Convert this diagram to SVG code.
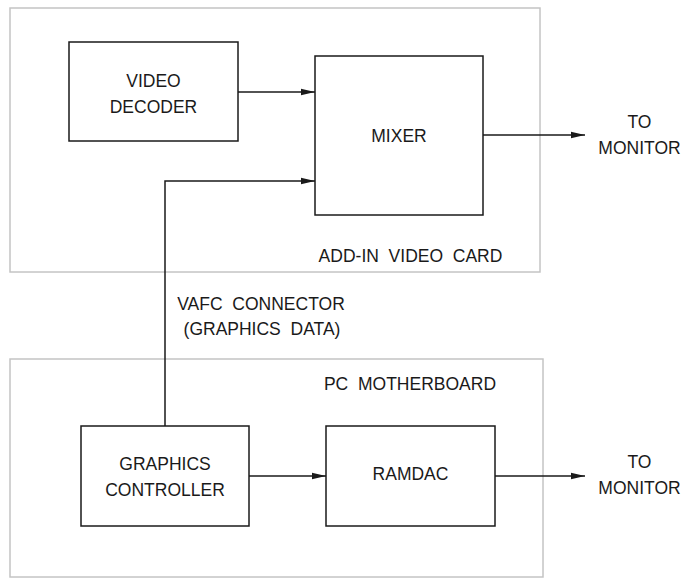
<svg xmlns="http://www.w3.org/2000/svg" width="685" height="578" viewBox="0 0 685 578">
<style>
  .frame { fill: none; stroke: #c4c4c4; stroke-width: 1.5; }
  .box { fill: #ffffff; stroke: #1a1a1a; stroke-width: 1.5; }
  .wire { fill: none; stroke: #1a1a1a; stroke-width: 1.5; }
  text { font-family: "Liberation Sans", Arial, sans-serif; font-size: 17.5px; fill: #1a1a1a; text-anchor: middle; white-space: pre; }
</style>
<defs>
  <marker id="arrow" viewBox="0 0 14 8" refX="14" refY="4" markerWidth="14" markerHeight="8" markerUnits="userSpaceOnUse" orient="auto">
    <path d="M0,0.8 L14,4 L0,7.2 Z" fill="#1a1a1a"/>
  </marker>
</defs>
<rect width="685" height="578" fill="#ffffff"/>

<g id="add-in-video-card">
  <rect class="frame" x="10" y="8" width="530" height="264"/>
  <text x="410.5" y="262">ADD-IN  VIDEO  CARD</text>
</g>
<g id="pc-motherboard">
  <rect class="frame" x="10" y="359" width="533" height="218"/>
  <text x="410" y="390">PC  MOTHERBOARD</text>
</g>

<g id="connectors">
  <line class="wire" x1="238" y1="92" x2="315" y2="92" marker-end="url(#arrow)"/>
  <polyline class="wire" points="165,426 165,181 315,181" marker-end="url(#arrow)"/>
  <line class="wire" x1="483" y1="135" x2="585" y2="135" marker-end="url(#arrow)"/>
  <line class="wire" x1="249" y1="476" x2="326" y2="476" marker-end="url(#arrow)"/>
  <line class="wire" x1="495" y1="476" x2="585" y2="476" marker-end="url(#arrow)"/>
  <text x="261" y="310">VAFC  CONNECTOR</text>
  <text x="262" y="335">(GRAPHICS  DATA)</text>
</g>

<g id="video-decoder">
  <rect class="box" x="69" y="42" width="169" height="99"/>
  <text x="153.5" y="86.5">VIDEO</text>
  <text x="153.5" y="113">DECODER</text>
</g>
<g id="mixer">
  <rect class="box" x="315" y="56" width="168" height="159"/>
  <text x="399" y="141.5">MIXER</text>
</g>
<g id="graphics-controller">
  <rect class="box" x="81" y="426" width="168" height="100"/>
  <text x="165" y="469.5">GRAPHICS</text>
  <text x="165" y="496">CONTROLLER</text>
</g>
<g id="ramdac">
  <rect class="box" x="326" y="426" width="169" height="100"/>
  <text x="410.5" y="479.5">RAMDAC</text>
</g>
<g id="monitor-top">
  <text x="639.5" y="128">TO</text>
  <text x="639.5" y="154">MONITOR</text>
</g>
<g id="monitor-bottom">
  <text x="639.5" y="468">TO</text>
  <text x="639.5" y="494">MONITOR</text>
</g>
</svg>
